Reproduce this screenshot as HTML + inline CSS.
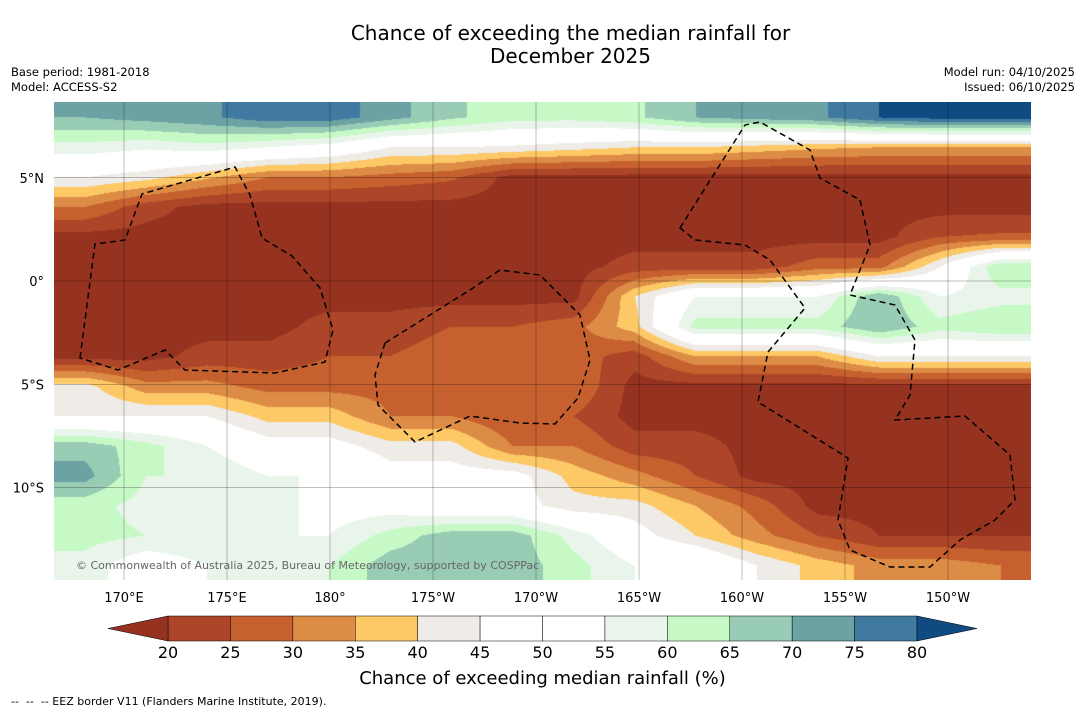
<!DOCTYPE html>
<html><head><meta charset="utf-8">
<style>
body{margin:0;background:#fff;width:1085px;height:713px;overflow:hidden;font-family:"DejaVu Sans","Liberation Sans",sans-serif;position:relative}
.t{position:absolute;white-space:nowrap}
</style></head><body>
<div class="t" style="left:0;width:1141px;text-align:center;top:22px;font-size:20px;line-height:23px;color:#000">Chance of exceeding the median rainfall for<br>December 2025</div>
<div class="t" style="left:11px;top:65px;font-size:11.5px;line-height:15px">Base period: 1981-2018<br>Model: ACCESS-S2</div>
<div class="t" style="right:10px;top:65px;font-size:11.5px;line-height:15px;text-align:right">Model run: 04/10/2025<br>Issued: 06/10/2025</div>
<canvas id="map" width="977" height="478" style="position:absolute;left:54px;top:102px"></canvas>
<svg id="ov" width="1085" height="713" style="position:absolute;left:0;top:0"></svg>
<div class="t" style="left:76px;top:559px;font-size:11px;color:#666">© Commonwealth of Australia 2025, Bureau of Meteorology, supported by COSPPac</div>
<div class="t" style="left:0;width:1085px;text-align:center;top:668px;font-size:18px">Chance of exceeding median rainfall (%)</div>
<div class="t" style="left:11px;top:695px;font-size:11px">--&nbsp; --&nbsp; -- EEZ border V11 (Flanders Marine Institute, 2019).</div>
<script>
const levels=[20,25,30,35,40,45,50,55,60,65,70,75,80];
const colors=["#963220","#ad4628","#c6612f","#dd8c45","#fdc866","#efebe7","#ffffff","#ffffff","#e9f5ea","#c7f9c7","#99ccb5","#6ca2a4","#417aa0","#0f4a80"];
const lonTicks=["170°E","175°E","180°","175°W","170°W","165°W","160°W","155°W","150°W"];
const lonVals=[170,175,180,185,190,195,200,205,210];
const latTicks=["5°N","0°","5°S","10°S"];
const latVals=[5,0,-5,-10];
const grid=[
[70,72,74,78,78,72,66,62,62,64,70,72,74,80,82,82],
[58,56,58,55,52,45,45,44,42,40,40,38,36,35,35,35],
[45,42,36,30,30,28,26,18,18,18,18,18,18,18,18,18],
[30,22,18,18,18,18,18,18,18,18,18,18,18,18,18,18],
[18,18,18,18,18,18,18,18,18,18,18,18,18,18,25,26],
[18,18,18,18,18,18,18,18,18,22,22,22,28,28,45,65],
[18,18,18,18,18,18,18,18,18,40,55,55,55,70,55,58],
[18,18,18,18,22,22,25,25,28,38,62,62,62,70,62,65],
[18,18,22,22,25,25,28,28,28,22,35,35,35,45,45,45],
[42,32,32,28,28,28,30,30,30,18,18,18,18,18,18,18],
[45,45,45,38,38,30,30,25,25,18,18,18,18,18,18,18],
[68,62,55,48,48,42,42,30,30,22,22,18,18,18,18,18],
[72,60,60,55,55,48,48,48,38,32,25,18,18,18,18,18],
[62,58,58,58,52,52,48,48,42,42,35,28,18,18,18,18],
[62,60,60,55,55,62,68,68,58,48,40,32,25,20,20,20],
[58,50,55,55,60,68,68,68,62,55,55,45,38,33,33,30]];
const X0=54,Y0=102,W=977,H=478;
function lonX(l){return 124+(l-170)*20.6;}
function latY(a){return 281-a*20.65;}
const cv=document.getElementById('map'),cx=cv.getContext('2d');
const img=cx.createImageData(W,H);
const nr=grid.length,nc=grid[0].length;
const rgb=colors.map(c=>[parseInt(c.substr(1,2),16),parseInt(c.substr(3,2),16),parseInt(c.substr(5,2),16)]);
for(let y=0;y<H;y++){
 let gy=y/H*nr-0.5;gy=Math.max(0,Math.min(nr-1.001,gy));const r0=Math.floor(gy),fy=gy-r0;
 for(let x=0;x<W;x++){
  let gx=x/W*nc-0.5;gx=Math.max(0,Math.min(nc-1.001,gx));const c0=Math.floor(gx),fx=gx-c0;
  const v=(grid[r0][c0]*(1-fx)+grid[r0][c0+1]*fx)*(1-fy)+(grid[r0+1][c0]*(1-fx)+grid[r0+1][c0+1]*fx)*fy;
  let i=0;while(i<levels.length&&v>=levels[i])i++;
  const p=(y*W+x)*4;img.data[p]=rgb[i][0];img.data[p+1]=rgb[i][1];img.data[p+2]=rgb[i][2];img.data[p+3]=255;
 }}
cx.putImageData(img,0,0);
const ov=document.getElementById('ov'),NS="http://www.w3.org/2000/svg";
function mk(t,a){const e=document.createElementNS(NS,t);for(const k in a)e.setAttribute(k,a[k]);ov.appendChild(e);return e;}
const FF='DejaVu Sans, Liberation Sans, sans-serif';
lonVals.forEach((l,i)=>{const x=lonX(l);
 const g=mk('line',{x1:x,x2:x,y1:Y0,y2:Y0+H,stroke:'#000','stroke-width':0.5,'stroke-opacity':0.5});
 
 const t=mk('text',{x:x,y:602,'font-size':13,'text-anchor':'middle','font-family':FF});t.textContent=lonTicks[i];
 });
latVals.forEach((a,i)=>{const y=latY(a);
 const g=mk('line',{x1:X0,x2:X0+W,y1:y,y2:y,stroke:'#000','stroke-width':0.5,'stroke-opacity':0.5});
 
 const t=mk('text',{x:44,y:y+5,'font-size':13,'text-anchor':'end','font-family':FF});t.textContent=latTicks[i];
 });
const eez=["M80,358 L95,244 L125,240 L142,194 L235,167 L250,195 L262,238 L292,256 L320,288 L333,330 L325,362 L275,373 L185,370 L165,350 L118,370 Z",
"M385,343 L470,290 L500,270 L540,275 L580,315 L590,360 L578,398 L555,424 L520,423 L470,416 L415,442 L378,405 L375,375 Z",
"M680,228 L745,125 L760,122 L810,150 L820,178 L860,200 L870,245 L850,295 L895,305 L915,340 L910,395 L895,420 L965,416 L1010,455 L1015,500 L995,520 L960,540 L930,567 L890,567 L850,550 L838,520 L848,458 L758,402 L768,352 L805,308 L770,260 L745,245 L695,240 Z"];
eez.forEach(d=>{const p=mk('path',{d:d,fill:'none',stroke:'#000','stroke-width':1.5,'stroke-dasharray':'6,4'});
 });
const cbX=168,cbW=749,cbY=616,cbH=25,bw=cbW/12;
for(let i=0;i<12;i++){const r=mk('rect',{x:cbX+i*bw,y:cbY,width:bw,height:cbH,fill:colors[i+1],stroke:'#000','stroke-width':0.5});
 }
const lt=mk('polygon',{points:`108,${cbY+cbH/2} ${cbX},${cbY} ${cbX},${cbY+cbH}`,fill:colors[0],stroke:'#000','stroke-width':0.5});

const rt=mk('polygon',{points:`977,${cbY+cbH/2} ${cbX+cbW},${cbY} ${cbX+cbW},${cbY+cbH}`,fill:colors[13],stroke:'#000','stroke-width':0.5});

levels.forEach((v,i)=>{const t=mk('text',{x:cbX+i*bw,y:658,'font-size':16,'text-anchor':'middle','font-family':FF});t.textContent=v;
 });
</script>
</body></html>
